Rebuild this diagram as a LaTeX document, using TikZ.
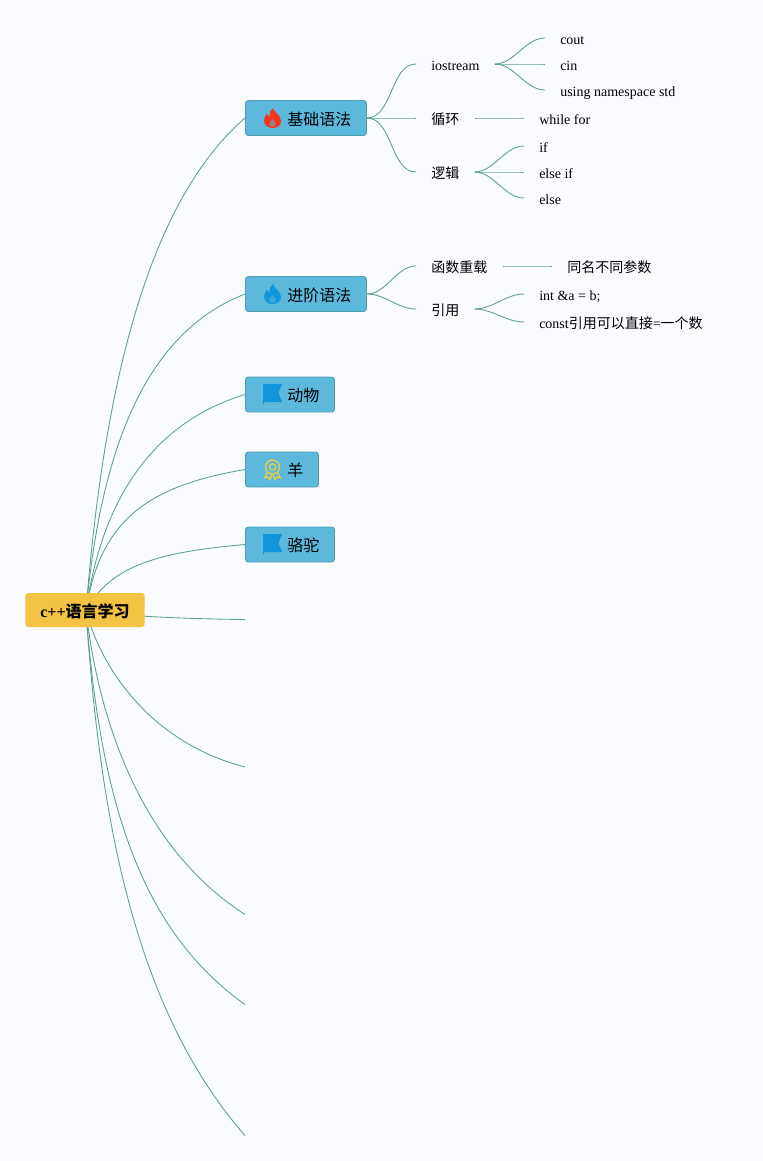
\documentclass[tikz,border=0pt]{standalone}
\usepackage{fontspec}
\setmainfont{Liberation Serif}
\newfontfamily\cjk{Noto Sans CJK SC}
\usetikzlibrary{backgrounds}

\definecolor{pagebg}{HTML}{F9FBFF}
\definecolor{topicfill}{HTML}{5CB9DC}
\definecolor{topicline}{HTML}{4F9FAE}
\definecolor{rootfill}{HTML}{F5C344}
\definecolor{linkcolor}{HTML}{5F9F92}
\definecolor{flamered}{HTML}{F4361E}
\definecolor{iconblue}{HTML}{1296DB}
\definecolor{medalyellow}{HTML}{E6CF45}

\tikzset{
	rootbox/.style={fill=rootfill,rounded corners=2.2pt,minimum height=25.5pt,inner xsep=11.25pt,inner ysep=0pt,font=\fontsize{12pt}{14pt}\selectfont\bfseries,text height=12pt,text depth=1.5pt},
	topicbox/.style={anchor=west,draw=topicline,line width=.7pt,fill=topicfill,rounded corners=2.2pt,minimum height=26.25pt,inner xsep=11.25pt,inner ysep=0pt,font=\fontsize{12pt}{14pt}\selectfont,text height=12pt,text depth=1.5pt,execute at begin node=\hspace*{20.25pt}},
	leaf/.style={anchor=west,inner xsep=11.25pt,inner ysep=0pt,font=\fontsize{10.5pt}{12pt}\selectfont,text height=10.5pt,text depth=1.5pt},
	link/.style={draw=linkcolor,line width=.65pt},
	pics/flameicon/.style={code={
		\fill[#1] (0.5,-10) .. controls (1,-6) and (8.5,-3) .. (8.5,3) .. controls (8.5,7.5) and (5,10) .. (0.5,10) .. controls (-5,10) and (-8.5,7) .. (-8.5,2.5) .. controls (-8.5,-0.5) and (-6.5,-3) .. (-5.5,-4.5) .. controls (-5,-2.5) and (-4,-1.5) .. (-3,-1.5) .. controls (-3.5,-5) and (-1.5,-8) .. (0.5,-10) -- cycle;
		\fill[topicfill,opacity=.55] (0.3,1) .. controls (1,3) and (4,4.5) .. (3.5,7) .. controls (3,9) and (-3,9) .. (-3.5,7) .. controls (-4,4.5) and (-1,3) .. (0.3,1) -- cycle;
	}},
	pics/flagicon/.style={code={
		\fill[iconblue] (-9.5,-10) -- (9.5,-10) -- (6,-1) -- (9.5,8) -- (-8.5,8) -- (-8.5,10) -- (-9.5,10) -- cycle;
	}},
	pics/medalicon/.style={code={
		\draw[medalyellow,line width=1pt] (0,-2.5) circle[radius=7];
		\draw[medalyellow,line width=1pt] (0,-2.5) circle[radius=3.2];
		\draw[medalyellow,line width=1pt,line join=round] (-5,2.5) -- (-8,8.5) -- (-4.5,7.5) -- (-2.5,10) -- (-0.5,5);
		\draw[medalyellow,line width=1pt,line join=round] (5,2.5) -- (8,8.5) -- (4.5,7.5) -- (2.5,10) -- (0.5,5);
	}},
}

\begin{document}
\begin{tikzpicture}[x=.75pt,y=-.75pt]
		\useasboundingbox (0,0) rectangle (763,1161);
		
		% root and main topics
		\node[rootbox] (root) at (85,610) {c++{\cjk 语言学习}};
		\coordinate (hub) at (86,611);
		\node[topicbox] (jichu) at (245,118) {\cjk 基础语法};
		\node[topicbox] (jinjie) at (245,294) {\cjk 进阶语法};
		\node[topicbox] (dongwu) at (245,394.5) {\cjk 动物};
		\node[topicbox] (yang) at (245,469.5) {\cjk 羊};
		\node[topicbox] (luotuo) at (245,544.5) {\cjk 骆驼};
		
		% icons
		\pic at (272.5,118) {flameicon=flamered};
		\pic at (272.5,294) {flameicon=iconblue};
		\pic at (272.5,394) {flagicon};
		\pic at (272.5,469.5) {medalicon};
		\pic at (272.5,544) {flagicon};
		
		% empty branches
		\coordinate (emptya) at (245,619.5);
		\coordinate (emptyb) at (245,767);
		\coordinate (emptyc) at (245,914.5);
		\coordinate (emptyd) at (245,1004.5);
		\coordinate (emptye) at (245,1135.5);
		
		% first topic
		\node[leaf] (iostream) at (416,64) {iostream};
		\node[leaf] (cout) at (545,38) {cout};
		\node[leaf] (cin) at (545,64) {cin};
		\node[leaf] (usingstd) at (545,90) {using namespace std};
		\node[leaf] (xunhuan) at (416,118) {\cjk 循环};
		\node[leaf] (whilefor) at (524,118) {while for};
		\node[leaf] (luoji) at (416,172) {\cjk 逻辑};
		\node[leaf] (condif) at (524,146) {if};
		\node[leaf] (condelif) at (524,172) {else if};
		\node[leaf] (condelse) at (524,198) {else};
		
		% second topic
		\node[leaf] (chongzai) at (416,266) {\cjk 函数重载};
		\node[leaf] (canshu) at (552,266) {\cjk 同名不同参数};
		\node[leaf] (yinyong) at (416,309) {\cjk 引用};
		\node[leaf] (intref) at (524,294) {int \&a = b;};
		\node[leaf] (constref) at (524,322) {const{\cjk 引用可以直接}={\cjk 一个数}};
		
		\begin{pgfonlayer}{background}
			\fill[pagebg] (0,0) rectangle (763,1161);
			
			% root links
			\draw[link] (hub) .. controls (104,380) and (150,200) .. (jichu.west);
			\draw[link] (hub) .. controls (100,460) and (140,335) .. (jinjie.west);
			\draw[link] (hub) .. controls (100,510) and (145,425) .. (dongwu.west);
			\draw[link] (hub) .. controls (100,515) and (155,485) .. (yang.west);
			\draw[link] (hub) .. controls (110,565) and (160,552) .. (luotuo.west);
			\draw[link] (hub) .. controls (120,616) and (190,619) .. (emptya);
			\draw[link] (hub) .. controls (105,680) and (160,745) .. (emptyb);
			\draw[link] (hub) .. controls (100,730) and (145,850) .. (emptyc);
			\draw[link] (hub) .. controls (100,800) and (140,930) .. (emptyd);
			\draw[link] (hub) .. controls (100,820) and (135,1010) .. (emptye);
			
			% branch links
			\foreach \from/\to in {jichu/iostream,jichu/xunhuan,jichu/luoji,iostream/cout,iostream/cin,iostream/usingstd,xunhuan/whilefor,luoji/condif,luoji/condelif,luoji/condelse,jinjie/chongzai,jinjie/yinyong,chongzai/canshu,yinyong/intref,yinyong/constref}
				\draw[link] (\from.east) to[out=0,in=180,looseness=.9] (\to.west);
		\end{pgfonlayer}
	\end{tikzpicture}
\end{document}
